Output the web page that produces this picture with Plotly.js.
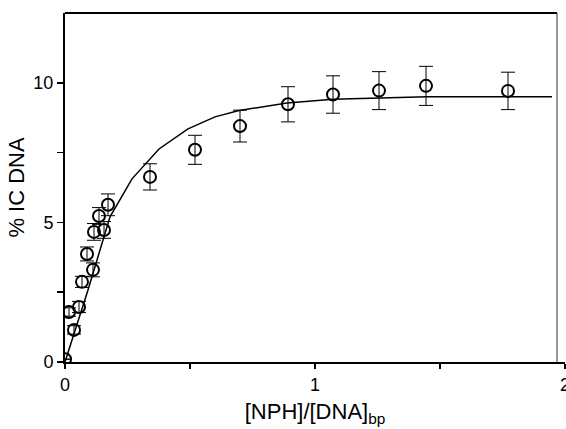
<!DOCTYPE html>
<html>
<head>
<meta charset="utf-8">
<script src="https://cdn.plot.ly/plotly-3.0.1.min.js"></script>
<style>html,body{margin:0;padding:0;background:#fff;}#chart{width:566px;height:429px;}</style>
</head>
<body>
<div id="chart"></div>
<script>
// Measured data points
const ratioX = [0, 0.016, 0.036, 0.056, 0.068, 0.088, 0.112, 0.116, 0.136, 0.156, 0.172, 0.34, 0.52, 0.70, 0.892, 1.072, 1.256, 1.444, 1.772];
const icDNA = [0.1, 1.79, 1.15, 1.97, 2.87, 3.87, 3.30, 4.66, 5.23, 4.73, 5.63, 6.63, 7.60, 8.45, 9.23, 9.58, 9.72, 9.89, 9.71];
const icErr = [0, 0.15, 0.15, 0.2, 0.2, 0.25, 0.25, 0.3, 0.3, 0.3, 0.39, 0.47, 0.52, 0.57, 0.63, 0.67, 0.68, 0.70, 0.67];
// Fitted curve
const fitX = [0, 0.092, 0.18, 0.268, 0.376, 0.492, 0.60, 0.692, 0.74, 0.82, 0.888, 1.072, 1.26, 1.448, 1.948];
const fitY = [0, 2.58, 5.20, 6.56, 7.63, 8.35, 8.78, 9.0, 9.07, 9.18, 9.28, 9.41, 9.46, 9.5, 9.5];
// Tick labels
const xTickVals = [0, 1, 2];
const xTickText = ['0', '1', '2'];
const xMinorVals = [0.5, 1.5];
const yTickVals = [0, 5, 10];
const yTickText = ['0', '5', '10'];
const yMinorVals = [2.5, 7.5];

const fontFam = 'Liberation Sans, Arial, Helvetica, sans-serif';

const traces = [
  {
    x: fitX, y: fitY, mode: 'lines', type: 'scatter',
    line: {color: '#000', width: 1.5}, hoverinfo: 'skip', showlegend: false
  },
  {
    x: ratioX, y: icDNA, mode: 'markers', type: 'scatter',
    marker: {symbol: 'circle-open', size: 12, color: '#000', line: {color: '#000', width: 2}},
    error_y: {type: 'data', array: icErr, visible: true, color: '#000', thickness: 1, width: 7},
    showlegend: false
  }
];

const layout = {
  width: 566, height: 429,
  margin: {l: 65, r: 1, t: 13, b: 67},
  paper_bgcolor: '#fff', plot_bgcolor: '#fff',
  font: {family: fontFam, color: '#000', size: 16},
  showlegend: false,
  xaxis: {
    range: [0, 2], tickvals: xTickVals, ticktext: xTickText,
    ticks: 'outside', ticklen: 5, tickwidth: 1.5, tickcolor: '#000',
    minor: {tickvals: xMinorVals, ticks: 'outside', ticklen: 5, tickwidth: 1.5, tickcolor: '#000', showgrid: false},
    showline: true, linecolor: '#000', linewidth: 2, showgrid: false, zeroline: false,
    tickfont: {size: 18}, ticklabeloverflow: 'allow',
    title: {text: '[NPH]/[DNA]<sub>bp</sub>', font: {size: 22}, standoff: 10}
  },
  yaxis: {
    range: [0, 12.5], tickvals: yTickVals, ticktext: yTickText,
    ticks: 'outside', ticklen: 6, tickwidth: 1.5, tickcolor: '#000',
    minor: {tickvals: yMinorVals, ticks: 'outside', ticklen: 6, tickwidth: 1.5, tickcolor: '#000', showgrid: false},
    showline: true, linecolor: '#000', linewidth: 2, showgrid: false, zeroline: false,
    tickfont: {size: 18},
    title: {text: '% IC DNA', font: {size: 22}, standoff: 3}
  },
  shapes: [
    {type: 'line', xref: 'x', yref: 'paper', x0: 0, x1: 1.968, y0: 1, y1: 1, line: {color: '#000', width: 2}},
    {type: 'line', xref: 'x', yref: 'paper', x0: 1.968, x1: 1.968, y0: 0, y1: 1, line: {color: '#333', width: 1}}
  ]
};

Plotly.newPlot('chart', traces, layout, {displayModeBar: false, staticPlot: true});
</script>
</body>
</html>
